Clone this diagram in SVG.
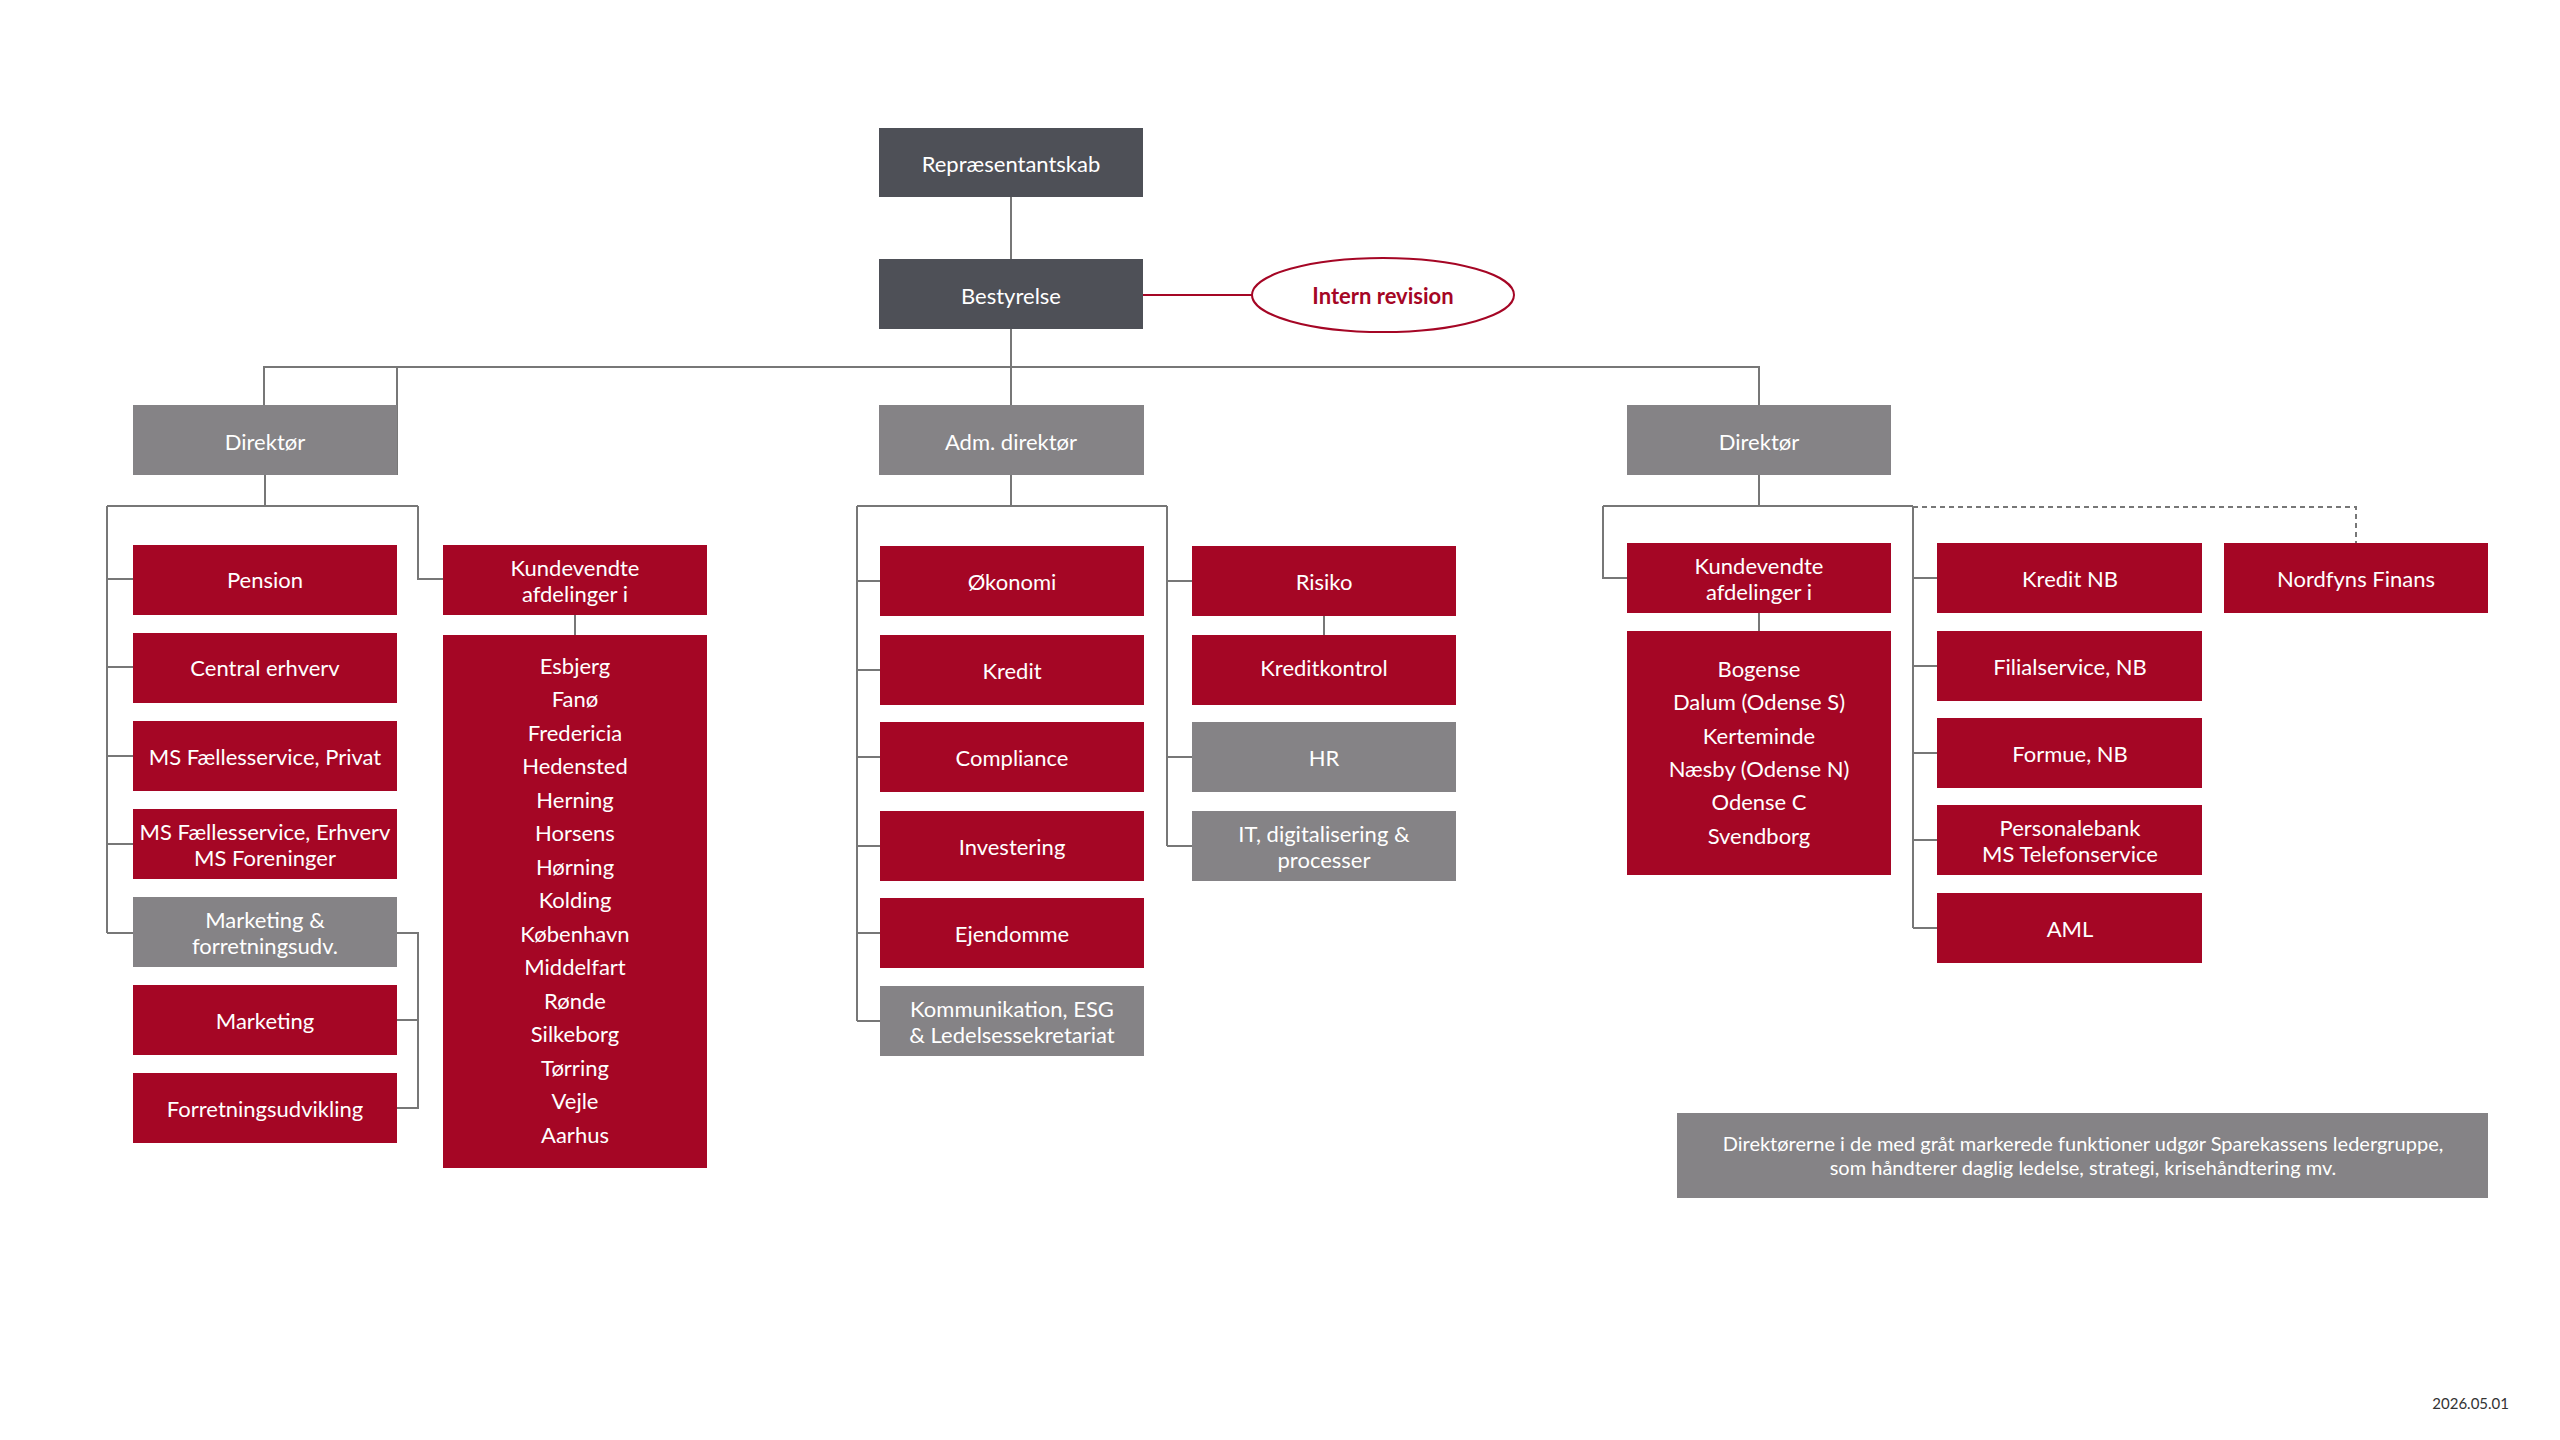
<svg xmlns="http://www.w3.org/2000/svg" width="2560" height="1440" viewBox="0 0 2560 1440">
<style>
.d{fill:#4e5057}.g{fill:#858386}.r{fill:#a50625}
text{font-family:Lato,"Open Sans","Liberation Sans",sans-serif;font-size:22px;fill:#fff;text-anchor:middle;dominant-baseline:central}
.c{fill:none;stroke:#777;stroke-width:2}
</style>
<rect width="2560" height="1440" fill="#fff"/>
<g id="connectors" class="c">
<path d="M1011 197V405M264 405V367H1759V405M397 475V367"/>
<path d="M265 475V506M107 506H418M107 506V933M107 579H133M107 667H133M107 756H133M107 844H133M107 933H133M418 506V579H443M397 933H418V1108H397M418 1020H397M575 615V635"/>
<path d="M1011 475V506M857 506H1167M857 506V1021M857 581H880M857 670H880M857 757H880M857 846H880M857 933H880M857 1021H880M1167 506V846M1167 581H1192M1167 757H1192M1167 846H1192M1324 615V635"/>
<path d="M1759 475V506M1603 506H1913M1603 506V578H1627M1913 506V928M1913 578H1937M1913 666H1937M1913 753H1937M1913 840H1937M1913 928H1937M1759 613V631"/>
<path d="M1913 507H2356V543" stroke-dasharray="5 4"/>
<path d="M1143 295H1252" stroke="#a50625"/>
</g>
<g id="n1"><rect class="d" x="879" y="128" width="264" height="69"/><text x="1011" y="163">Repræsentantskab</text></g>
<g id="n2"><rect class="d" x="879" y="259" width="264" height="70"/><text x="1011" y="295">Bestyrelse</text></g>
<g id="n3"><ellipse cx="1383" cy="295" rx="131" ry="37" fill="#fff" stroke="#a50625" stroke-width="2"/><text x="1383" y="295" style="fill:#a50625;font-weight:bold">Intern revision</text></g>
<g id="n4"><rect class="g" x="133" y="405" width="264" height="70"/><text x="265" y="441">Direktør</text></g>
<g id="n5"><rect class="g" x="879" y="405" width="265" height="70"/><text x="1011" y="441">Adm. direktør</text></g>
<g id="n6"><rect class="g" x="1627" y="405" width="264" height="70"/><text x="1759" y="441">Direktør</text></g>
<g id="l1"><rect class="r" x="133" y="545" width="264" height="70"/><text x="265" y="579">Pension</text></g>
<g id="l2"><rect class="r" x="133" y="633" width="264" height="70"/><text x="265" y="667">Central erhverv</text></g>
<g id="l3"><rect class="r" x="133" y="721" width="264" height="70"/><text x="265" y="756">MS Fællesservice, Privat</text></g>
<g id="l4"><rect class="r" x="133" y="809" width="264" height="70"/><text x="265" y="831">MS Fællesservice, Erhverv</text><text x="265" y="857">MS Foreninger</text></g>
<g id="l5"><rect class="g" x="133" y="897" width="264" height="70"/><text x="265" y="919">Marketing &amp;</text><text x="265" y="945">forretningsudv.</text></g>
<g id="l6"><rect class="r" x="133" y="985" width="264" height="70"/><text x="265" y="1020">Marketing</text></g>
<g id="l7"><rect class="r" x="133" y="1073" width="264" height="70"/><text x="265" y="1108">Forretningsudvikling</text></g>
<g id="k1"><rect class="r" x="443" y="545" width="264" height="70"/><text x="575" y="567">Kundevendte</text><text x="575" y="593">afdelinger i</text></g>
<g id="k2"><rect class="r" x="443" y="635" width="264" height="533"/>
<text x="575" y="665">Esbjerg</text><text x="575" y="698.5">Fanø</text><text x="575" y="732">Fredericia</text><text x="575" y="765.5">Hedensted</text><text x="575" y="799">Herning</text><text x="575" y="832.5">Horsens</text><text x="575" y="866">Hørning</text><text x="575" y="899.5">Kolding</text><text x="575" y="933">København</text><text x="575" y="966.5">Middelfart</text><text x="575" y="1000">Rønde</text><text x="575" y="1033.5">Silkeborg</text><text x="575" y="1067">Tørring</text><text x="575" y="1100.5">Vejle</text><text x="575" y="1134">Aarhus</text></g>
<g id="c1"><rect class="r" x="880" y="546" width="264" height="70"/><text x="1012" y="581">Økonomi</text></g>
<g id="c2"><rect class="r" x="880" y="635" width="264" height="70"/><text x="1012" y="670">Kredit</text></g>
<g id="c3"><rect class="r" x="880" y="722" width="264" height="70"/><text x="1012" y="757">Compliance</text></g>
<g id="c4"><rect class="r" x="880" y="811" width="264" height="70"/><text x="1012" y="846">Investering</text></g>
<g id="c5"><rect class="r" x="880" y="898" width="264" height="70"/><text x="1012" y="933">Ejendomme</text></g>
<g id="c6"><rect class="g" x="880" y="986" width="264" height="70"/><text x="1012" y="1008">Kommunikation, ESG</text><text x="1012" y="1034">&amp; Ledelsessekretariat</text></g>
<g id="c7"><rect class="r" x="1192" y="546" width="264" height="70"/><text x="1324" y="581">Risiko</text></g>
<g id="c8"><rect class="r" x="1192" y="635" width="264" height="70"/><text x="1324" y="667">Kreditkontrol</text></g>
<g id="c9"><rect class="g" x="1192" y="722" width="264" height="70"/><text x="1324" y="757">HR</text></g>
<g id="c10"><rect class="g" x="1192" y="811" width="264" height="70"/><text x="1324" y="833">IT, digitalisering &amp;</text><text x="1324" y="859">processer</text></g>
<g id="r1"><rect class="r" x="1627" y="543" width="264" height="70"/><text x="1759" y="565">Kundevendte</text><text x="1759" y="591">afdelinger i</text></g>
<g id="r2"><rect class="r" x="1627" y="631" width="264" height="244"/>
<text x="1759" y="668">Bogense</text><text x="1759" y="701">Dalum (Odense S)</text><text x="1759" y="735">Kerteminde</text><text x="1759" y="768">Næsby (Odense N)</text><text x="1759" y="801">Odense C</text><text x="1759" y="835">Svendborg</text></g>
<g id="r3"><rect class="r" x="1937" y="543" width="265" height="70"/><text x="2070" y="578">Kredit NB</text></g>
<g id="r4"><rect class="r" x="1937" y="631" width="265" height="70"/><text x="2070" y="666">Filialservice, NB</text></g>
<g id="r5"><rect class="r" x="1937" y="718" width="265" height="70"/><text x="2070" y="753">Formue, NB</text></g>
<g id="r6"><rect class="r" x="1937" y="805" width="265" height="70"/><text x="2070" y="827">Personalebank</text><text x="2070" y="853">MS Telefonservice</text></g>
<g id="r7"><rect class="r" x="1937" y="893" width="265" height="70"/><text x="2070" y="928">AML</text></g>
<g id="r8"><rect class="r" x="2224" y="543" width="264" height="70"/><text x="2356" y="578">Nordfyns Finans</text></g>
<g id="note"><rect class="g" x="1677" y="1113" width="811" height="85"/><text x="2083" y="1143" style="font-size:20px">Direktørerne i de med gråt markerede funktioner udgør Sparekassens ledergruppe,</text><text x="2083" y="1167" style="font-size:20px">som håndterer daglig ledelse, strategi, krisehåndtering mv.</text></g>
<text x="2509" y="1403" style="font-size:15px;fill:#333;text-anchor:end">2026.05.01</text>
</svg>
